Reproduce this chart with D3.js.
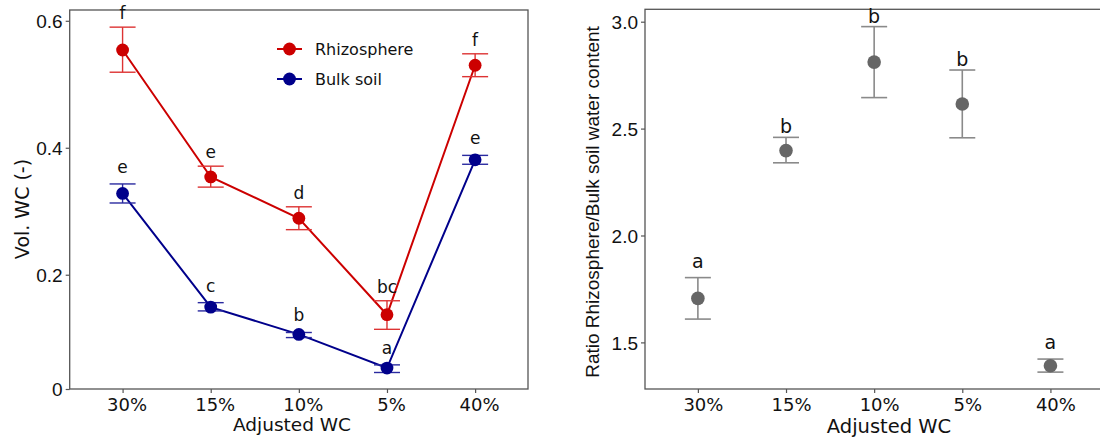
<!DOCTYPE html>
<html>
<head>
<meta charset="utf-8">
<script src="https://cdn.jsdelivr.net/npm/d3@7/dist/d3.min.js"></script>
<style>
  html, body { margin: 0; padding: 0; background: #fff; }
  svg { display: block; }
</style>
</head>
<body>
<svg id="chart" width="1100" height="441"></svg>
<script>
// Treatment levels (adjusted water content)
const categories = ["30%", "15%", "10%", "5%", "40%"];

// Volumetric water content, rhizosphere vs bulk soil
const rhizoMean = [0.554, 0.354, 0.289, 0.137, 0.530];
const rhizoLow  = [0.519, 0.338, 0.271, 0.114, 0.512];
const rhizoHigh = [0.590, 0.371, 0.307, 0.159, 0.548];
const rhizoLetters = ["f", "e", "d", "bc", "f"];

const bulkMean = [0.328, 0.149, 0.106, 0.053, 0.381];
const bulkLow  = [0.313, 0.143, 0.101, 0.046, 0.374];
const bulkHigh = [0.343, 0.156, 0.109, 0.058, 0.388];
const bulkLetters = ["e", "c", "b", "a", "e"];

// Ratio rhizosphere / bulk soil water content
const ratioMean = [1.706, 2.397, 2.811, 2.615, 1.391];
const ratioLow  = [1.609, 2.340, 2.645, 2.457, 1.361];
const ratioHigh = [1.803, 2.459, 2.977, 2.774, 1.422];
const ratioLetters = ["a", "b", "b", "b", "a"];

const leftTicks = [0.02, 0.2, 0.4, 0.6];
const rightTicks = [1.5, 2.0, 2.5, 3.0];

const svg = d3.select("#chart");
const DEJAVU = "'DejaVu Sans', Verdana, sans-serif";
const ARIAL = "'Liberation Sans', Arial, sans-serif";
const frameColor = "#555";

function drawFrame(g, x0, x1, y0, y1) {
  g.append("rect")
    .attr("x", x0).attr("y", y0)
    .attr("width", x1 - x0).attr("height", y1 - y0)
    .attr("fill", "none").attr("stroke", frameColor).attr("stroke-width", 1.3);
}

function styleAxis(sel, font, size) {
  sel.select(".domain").remove();
  sel.selectAll(".tick line").attr("stroke", frameColor).attr("stroke-width", 1.2);
  sel.selectAll(".tick text").attr("font-family", font).attr("font-size", size).attr("fill", "#111");
}

function errorBars(g, pts, x, y, color, width) {
  const eb = g.append("g").attr("stroke", color).attr("stroke-width", width);
  eb.selectAll(".v").data(pts).join("line")
    .attr("x1", d => x(d.c)).attr("x2", d => x(d.c))
    .attr("y1", d => y(d.lo)).attr("y2", d => y(d.hi));
  eb.selectAll(".lo").data(pts).join("line")
    .attr("x1", d => x(d.c) - 13).attr("x2", d => x(d.c) + 13)
    .attr("y1", d => y(d.lo)).attr("y2", d => y(d.lo));
  eb.selectAll(".hi").data(pts).join("line")
    .attr("x1", d => x(d.c) - 13).attr("x2", d => x(d.c) + 13)
    .attr("y1", d => y(d.hi)).attr("y2", d => y(d.hi));
}

/* ---------- Left panel: Vol. WC ---------- */
const L = { x0: 69.7, x1: 528, y0: 10, y1: 389 };
const xL = d3.scalePoint().domain(categories).range([L.x0, L.x1]).padding(0.6);
const yL = d3.scaleLinear().domain([0.02, 0.617]).range([L.y1, L.y0]);
const gL = svg.append("g");

gL.append("g").attr("transform", `translate(0,${L.y1})`)
  .call(d3.axisBottom(xL).tickSize(4).tickPadding(5))
  .call(s => styleAxis(s, DEJAVU, 18))
  .call(s => s.selectAll(".tick text").attr("dx", 4));

gL.append("g").attr("transform", `translate(${L.x0},0)`)
  .call(d3.axisLeft(yL).tickValues(leftTicks).tickSize(4).tickPadding(3)
    .tickFormat(d => d < 0.1 ? "0" : d3.format(".1f")(d)))
  .call(s => styleAxis(s, ARIAL, 19))
  .call(s => s.selectAll(".tick text").attr("dy", "0.36em"));

drawFrame(gL, L.x0, L.x1, L.y0, L.y1);

const series = [
  { name: "Rhizosphere", color: "#cc0000", bar: "#dd3333", gap: 8,  mean: rhizoMean, low: rhizoLow, high: rhizoHigh, letters: rhizoLetters },
  { name: "Bulk soil",   color: "#00008b", bar: "#2a2aa0", gap: 11, mean: bulkMean,  low: bulkLow,  high: bulkHigh,  letters: bulkLetters }
];

series.forEach(s => {
  const pts = categories.map((c, i) => ({ c, m: s.mean[i], lo: s.low[i], hi: s.high[i], t: s.letters[i] }));
  gL.append("path")
    .datum(pts)
    .attr("fill", "none").attr("stroke", s.color).attr("stroke-width", 2)
    .attr("d", d3.line().x(d => xL(d.c)).y(d => yL(d.m)));
  errorBars(gL, pts, xL, yL, s.bar, 1.4);
  gL.append("g").selectAll("circle").data(pts).join("circle")
    .attr("cx", d => xL(d.c)).attr("cy", d => yL(d.m)).attr("r", 6.4)
    .attr("fill", s.color);
  gL.append("g").selectAll("text").data(pts).join("text")
    .attr("x", d => xL(d.c)).attr("y", d => yL(d.hi) - s.gap)
    .attr("text-anchor", "middle")
    .attr("font-family", DEJAVU).attr("font-size", 17).attr("fill", "#111")
    .text(d => d.t);
});

// Legend
const legend = gL.append("g").attr("transform", "translate(277,0)");
series.forEach((s, i) => {
  const y = 49 + i * 30;
  legend.append("line").attr("x1", 0).attr("x2", 25).attr("y1", y).attr("y2", y)
    .attr("stroke", s.color).attr("stroke-width", 2);
  legend.append("circle").attr("cx", 12.5).attr("cy", y).attr("r", 6.4).attr("fill", s.color);
  legend.append("text").attr("x", 38).attr("y", y).attr("dy", "0.36em")
    .attr("font-family", DEJAVU).attr("font-size", 16).attr("fill", "#111")
    .text(s.name);
});

gL.append("text")
  .attr("transform", `translate(29,209) rotate(-90)`)
  .attr("text-anchor", "middle")
  .attr("font-family", DEJAVU).attr("font-size", 19).attr("fill", "#111")
  .text("Vol. WC (-)");

gL.append("text")
  .attr("x", 292).attr("y", 431)
  .attr("text-anchor", "middle")
  .attr("font-family", DEJAVU).attr("font-size", 18.5).attr("fill", "#111")
  .text("Adjusted WC");

/* ---------- Right panel: ratio ---------- */
const R = { x0: 645, x1: 1103.3, y0: 9.3, y1: 389 };
const xR = d3.scalePoint().domain(categories).range([R.x0, R.x1]).padding(0.6);
const yR = d3.scaleLinear().domain([1.282, 3.058]).range([R.y1, R.y0]);
const gR = svg.append("g");

gR.append("g").attr("transform", `translate(0,${R.y1})`)
  .call(d3.axisBottom(xR).tickSize(4).tickPadding(5))
  .call(s => styleAxis(s, DEJAVU, 18))
  .call(s => s.selectAll(".tick text").attr("dx", 5));

gR.append("g").attr("transform", `translate(${R.x0},0)`)
  .call(d3.axisLeft(yR).tickValues(rightTicks).tickSize(4).tickPadding(3).tickFormat(d3.format(".1f")))
  .call(s => styleAxis(s, ARIAL, 19))
  .call(s => s.selectAll(".tick text").attr("dy", "0.36em"));

drawFrame(gR, R.x0, R.x1, R.y0, R.y1);

const ratioPts = categories.map((c, i) => ({ c, m: ratioMean[i], lo: ratioLow[i], hi: ratioHigh[i], t: ratioLetters[i] }));
errorBars(gR, ratioPts, xR, yR, "#8a8a8a", 1.6);
gR.append("g").selectAll("circle").data(ratioPts).join("circle")
  .attr("cx", d => xR(d.c)).attr("cy", d => yR(d.m)).attr("r", 6.8)
  .attr("fill", "#666");
gR.append("g").selectAll("text").data(ratioPts).join("text")
  .attr("x", d => xR(d.c)).attr("y", d => yR(d.hi) - (d.t === "a" ? 10 : 4))
  .attr("text-anchor", "middle")
  .attr("font-family", DEJAVU).attr("font-size", 19).attr("fill", "#111")
  .text(d => d.t);

gR.append("text")
  .attr("transform", `translate(599,202) rotate(-90)`)
  .attr("text-anchor", "middle")
  .attr("font-family", ARIAL).attr("font-size", 19).attr("fill", "#111")
  .text("Ratio Rhizosphere/Bulk soil water content");

gR.append("text")
  .attr("x", 889).attr("y", 433)
  .attr("text-anchor", "middle")
  .attr("font-family", DEJAVU).attr("font-size", 19.5).attr("fill", "#111")
  .text("Adjusted WC");
</script>
</body>
</html>
